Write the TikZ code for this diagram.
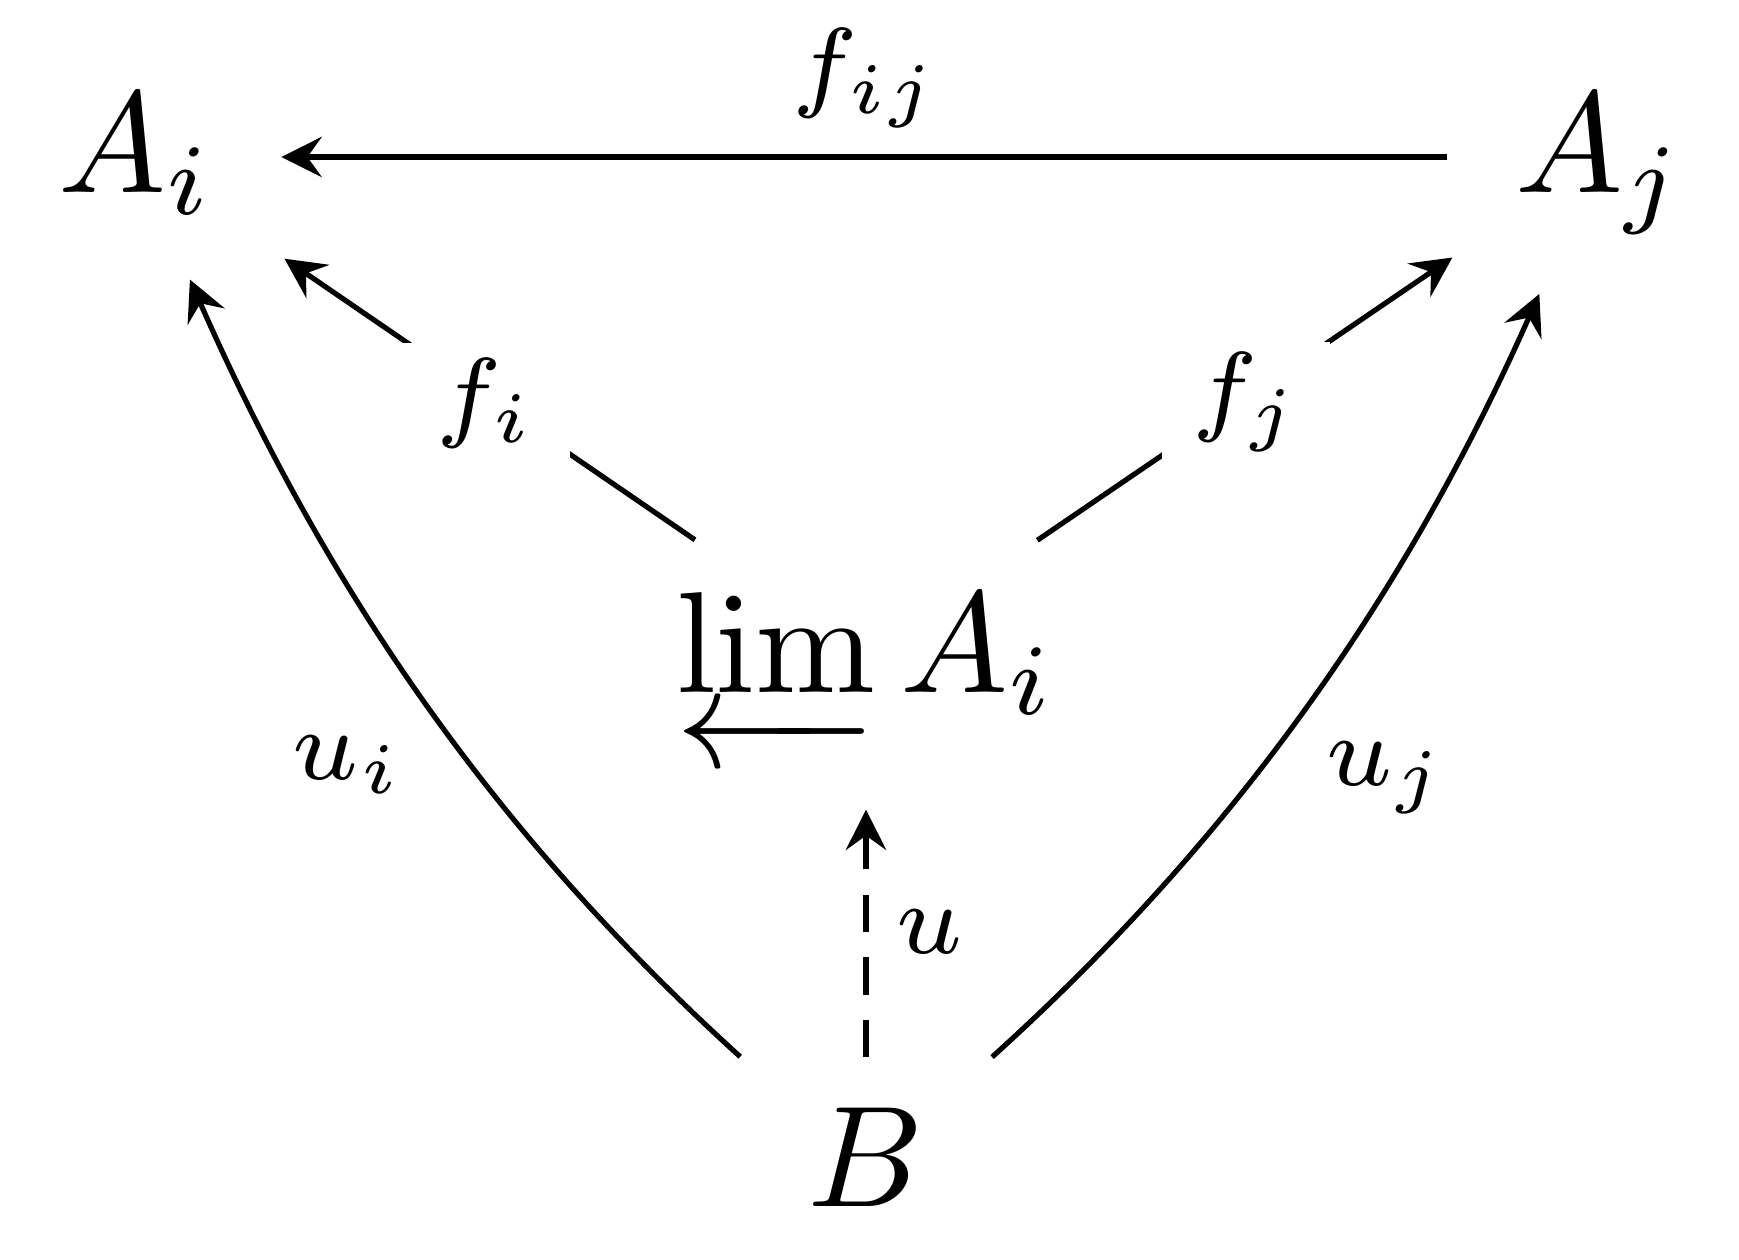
\documentclass[tikz,border=0pt]{standalone}
\usepackage{amsmath}
\usetikzlibrary{arrows.meta}
\begin{document}
\begin{tikzpicture}[x=0.069444pt,y=-0.069444pt,
  obj/.style={inner sep=0pt, text height=7pt, text depth=2pt},
  lab/.style={inner sep=0pt, execute at begin node=$\scriptstyle, execute at end node=$},
  gaplab/.style={lab, fill=white, minimum width=11.6pt, minimum height=8.4pt},
  arr/.style={line width=0.36pt, -{Stealth[length=2.8pt,width=2.8pt,inset=1pt]}},
  ]
\useasboundingbox (0,0) rectangle (1739,1260);
\node[obj] (Ai) at (136,157) {$A_i$};
\node[obj] (Aj) at (1600,157) {$A_j$};
\node[obj] (L) at (866,657) {$\varprojlim A_i$};
\node[obj] (B) at (866,1171) {$B$};
% horizontal
\draw[arr, shorten <=10.6pt, shorten >=10.1pt] (Aj.center) -- (Ai.center);
\node[lab] (fij) at (866,78) {f_{ij}};
% limit projections
\draw[arr, shorten <=14.4pt, shorten >=12.5pt] (L.center) -- (Ai.center);
\draw[arr, shorten <=14.4pt, shorten >=12.4pt] (L.center) -- (Aj.center);
\node[gaplab] (fi) at (486,403) {f_i};
\node[gaplab] (fj) at (1246,402) {f_j};
% maps from B
\draw[arr, dash pattern=on 2.6pt off 1.75pt, shorten <=7.9pt, shorten >=10.6pt] (B.center) -- (L.center);
\node[lab] (u) at (930,932) {u};
\draw[arr, shorten <=11.8pt, shorten >=9.3pt] (B.center) to[bend left=12] (Ai.center);
\draw[arr, shorten <=11.8pt, shorten >=10.4pt] (B.center) to[bend right=12] (Aj.center);
\node[lab] (ui) at (348,765) {u_i};
\node[lab] (uj) at (1386,778) {u_j};
\end{tikzpicture}
\end{document}
